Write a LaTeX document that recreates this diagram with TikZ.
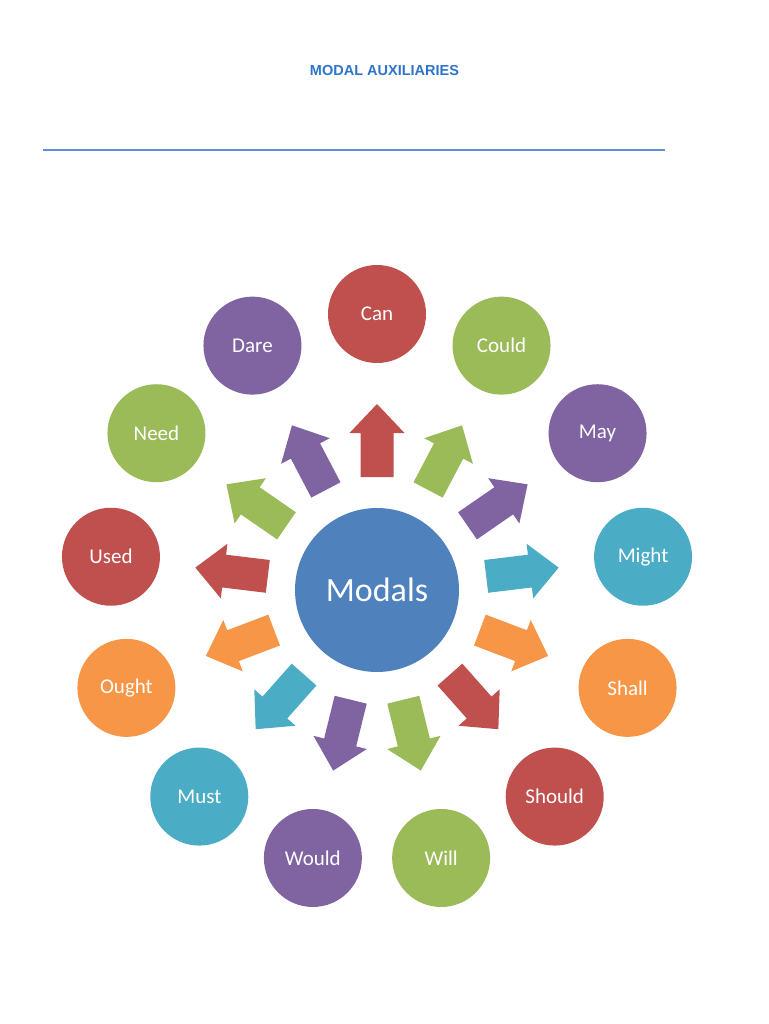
\documentclass[tikz,border=0pt]{standalone}
\usepackage{fontspec}
\setmainfont{Carlito}
\newfontfamily\titulofont{Liberation Sans}
\usetikzlibrary{calc}

\definecolor{rojo}{HTML}{C0504D}
\definecolor{verde}{HTML}{9BBB59}
\definecolor{morado}{HTML}{8064A2}
\definecolor{cian}{HTML}{4BACC6}
\definecolor{naranja}{HTML}{F79646}
\definecolor{azul}{HTML}{4F81BD}
\definecolor{azultitulo}{HTML}{2E74C8}
\definecolor{azullinea}{HTML}{5B8FD6}

\begin{document}
\begin{tikzpicture}[x=1pt, y=-1pt,
    modal/.style={circle, fill=#1, minimum size=98pt, inner sep=0pt, text=white,
        font=\fontsize{21}{24}\selectfont}]
    \useasboundingbox (0,0) rectangle (768,1024);

    % Titulo y linea horizontal
    \node[text=azultitulo, font=\titulofont\bfseries\fontsize{14.5}{17}\selectfont] (titulo) at (384.5,71) {MODAL AUXILIARIES};
    \draw[azullinea, line width=1.1pt] (43,150) -- (665,150);

    % Circulo central
    \node[modal=azul, minimum size=164pt, font=\fontsize{34}{40}\selectfont] (modals) at (377,590) {Modals};

    % Circulos exteriores (13 a igual angulo) y flechas
    \foreach \palabra/\col [count=\i from 0] in {Can/rojo, Could/verde, May/morado, Might/cian,
        Shall/naranja, Should/rojo, Will/verde, Would/morado, Must/cian, Ought/naranja,
        Used/rojo, Need/verde, Dare/morado}{
        \pgfmathsetmacro{\ang}{\i*360/13-90}
        \pgfmathsetmacro{\rot}{90-\i*360/13}
        \node[modal=\col] (\palabra) at ($(modals.center)+(\ang:268 and 276)$) {\palabra};
        \begin{scope}[shift={($(modals.center)+(\ang:110 and 113)$)}, rotate=\rot]
            \fill[\col] (0,-16.5) -- (44,-16.5) -- (44,-27.5) -- (73,0) -- (44,27.5) -- (44,16.5) -- (0,16.5) -- cycle;
        \end{scope}
    }

\end{tikzpicture}
\end{document}
